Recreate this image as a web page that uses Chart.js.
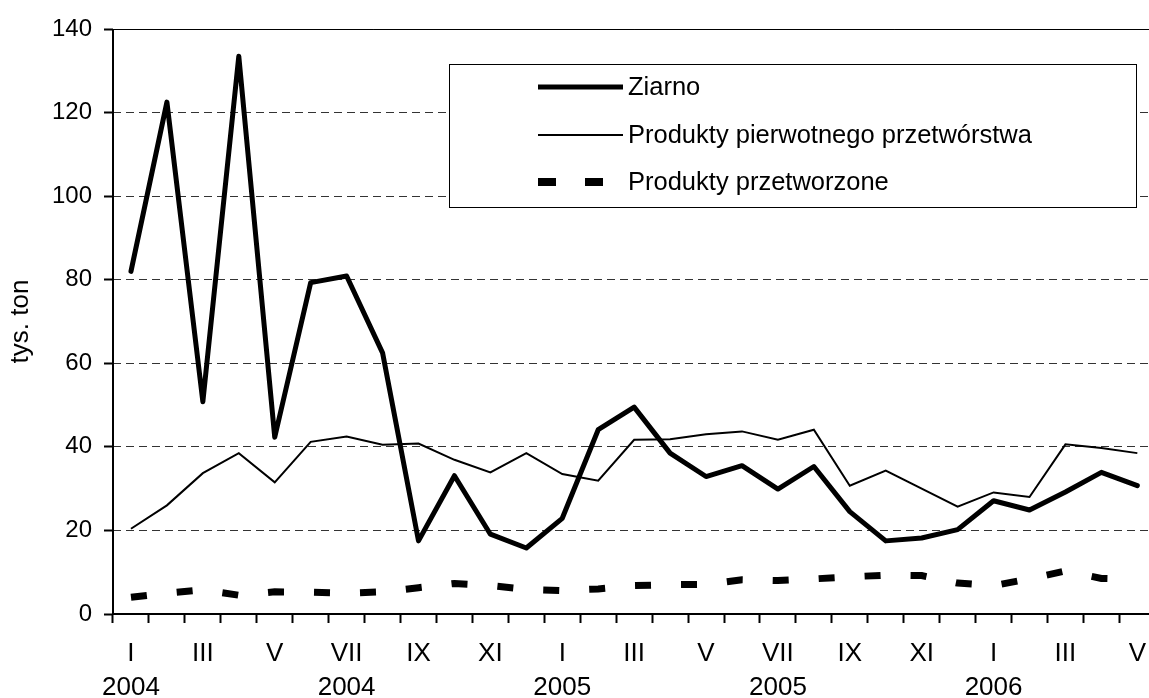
<!DOCTYPE html>
<html><head><meta charset="utf-8">
<script src="https://cdn.jsdelivr.net/npm/chart.js@4/dist/chart.umd.min.js"></script>
<style>html,body{margin:0;padding:0;background:#fff;overflow:hidden}#wrap{width:1149px;height:698px;overflow:hidden;position:relative;background:#fff}canvas{display:block}</style>
</head><body><div id="wrap"><canvas id="c" width="1160" height="698"></canvas></div>
<script>
const months = ['I','II','III','IV','V','VI','VII','VIII','IX','X','XI','XII','I','II','III','IV','V','VI','VII','VIII','IX','X','XI','XII','I','II','III','IV','V'];
const years = ['2004','2004','2004','2004','2004','2004','2004','2004','2004','2004','2004','2004','2005','2005','2005','2005','2005','2005','2005','2005','2005','2005','2005','2005','2006','2006','2006','2006','2006'];
const tickMonths = ['I','','III','','V','','VII','','IX','','XI','','I','','III','','V','','VII','','IX','','XI','','I','','III','','V'];
const tickYears = ['2004','','','','','','2004','','','','','','2005','','','','','','2005','','','','','','2006','','','',''];
const ziarno = [82,122.5,50.8,133.5,42.3,79.3,80.9,62.5,17.5,33.1,19.1,15.8,22.9,44.1,49.5,38.5,32.9,35.5,29.9,35.3,24.5,17.5,18.2,20.2,27.1,24.9,29.2,33.9,30.7];
const pierwotne = [20.4,26.0,33.7,38.5,31.5,41.2,42.5,40.5,40.8,36.9,33.9,38.5,33.5,31.9,41.7,41.8,43.0,43.7,41.7,44.1,30.7,34.3,30.0,25.7,29.1,28.0,40.6,39.7,38.5];
const przetworzone = [4.0,5.0,5.8,4.5,5.3,5.2,5.0,5.3,6.3,7.3,6.8,5.9,5.6,6.0,6.8,7.0,7.1,8.2,8.0,8.4,8.9,9.3,9.2,7.4,6.8,8.4,10.3,8.5,8.3];
const seriesNames = ['Ziarno','Produkty pierwotnego przetwórstwa','Produkty przetworzone'];
const yTitle = 'tys. ton';

const FONT = "'Liberation Sans', Arial, sans-serif";

const decor = {
  id: 'decor',
  afterDraw(chart) {
    const ctx = chart.ctx, a = chart.chartArea;
    ctx.save();
    ctx.strokeStyle = '#000'; ctx.lineWidth = 1; ctx.setLineDash([]);
    ctx.beginPath(); ctx.moveTo(a.left, a.top + 0.5); ctx.lineTo(a.right, a.top + 0.5); ctx.stroke();
    ctx.lineWidth = 2;
    ctx.beginPath(); ctx.moveTo(a.left, a.top); ctx.lineTo(a.left, a.bottom + 1); ctx.stroke();
    ctx.beginPath(); ctx.moveTo(a.left - 1, a.bottom); ctx.lineTo(chart.width, a.bottom); ctx.stroke();
    const bx = 449, by = 64, bw = 687, bh = 143;
    ctx.fillStyle = '#fff'; ctx.fillRect(bx, by, bw, bh);
    ctx.lineWidth = 1; ctx.strokeStyle = '#000';
    ctx.strokeRect(bx + 0.5, by + 0.5, bw, bh);
    const rows = [87, 135, 182];
    ctx.font = '25.5px ' + FONT; ctx.fillStyle = '#000'; ctx.textBaseline = 'middle'; ctx.textAlign = 'left';
    chart.data.datasets.forEach((ds, i) => {
      const y = rows[i];
      ctx.save();
      ctx.strokeStyle = ds.borderColor; ctx.lineWidth = ds.borderWidth;
      ctx.lineCap = 'butt';
      if (ds.borderDash) {
        ctx.fillStyle = '#000';
        ctx.fillRect(538, y - 4, 18, 8);
        ctx.fillRect(585, y - 4, 18, 8);
      } else {
        ctx.beginPath(); ctx.moveTo(538, y); ctx.lineTo(623, y); ctx.stroke();
      }
      ctx.restore();
      ctx.fillText(ds.label, 628, y + 1);
    });
    ctx.restore();
  }
};

new Chart(document.getElementById('c'), {
  type: 'line',
  data: {
    labels: months.map((m, i) => m + ' ' + years[i]),
    datasets: [
      {label: seriesNames[0], data: ziarno, borderColor: '#000', borderWidth: 5, borderJoinStyle: 'round', borderCapStyle: 'round', pointRadius: 0, tension: 0, fill: false},
      {label: seriesNames[1], data: pierwotne, borderColor: '#000', borderWidth: 2, borderJoinStyle: 'miter', pointRadius: 0, tension: 0, fill: false},
      {label: seriesNames[2], data: przetworzone, borderColor: '#000', borderWidth: 7, borderDash: [16, 30], borderCapStyle: 'butt', pointRadius: 0, tension: 0, fill: false}
    ]
  },
  options: {
    responsive: false, animation: false, devicePixelRatio: 1,
    layout: {padding: {top: 29, left: 0, right: 0, bottom: 0}},
    plugins: {legend: {display: false}, tooltip: {enabled: false}},
    scales: {
      x: {
        offset: true,
        grid: {offset: true, drawOnChartArea: false, drawTicks: true, tickLength: 9, tickColor: '#000', tickWidth: 2, color: '#000'},
        border: {display: false},
        ticks: {autoSkip: false, maxRotation: 0, minRotation: 0, color: '#000', padding: 14,
          font: {family: FONT, size: 26, lineHeight: 1.3},
          callback: (v, i) => tickYears[i] ? [tickMonths[i], tickYears[i]] : tickMonths[i]},
        afterFit: s => { s.height = 84; }
      },
      y: {
        min: 0, max: 140,
        ticks: {stepSize: 20, color: '#000', padding: 12, font: {family: FONT, size: 24}},
        grid: {color: '#333', lineWidth: 1, tickLength: 9, tickColor: '#000', tickWidth: 2, tickBorderDash: []},
        border: {display: false, dash: [8, 5]},
        title: {display: true, text: yTitle, color: '#000', font: {family: FONT, size: 26}, padding: {top: 5, bottom: 0}},
        afterFit: s => { s.width = 113; }
      }
    }
  },
  plugins: [decor]
});
</script>
</body></html>
